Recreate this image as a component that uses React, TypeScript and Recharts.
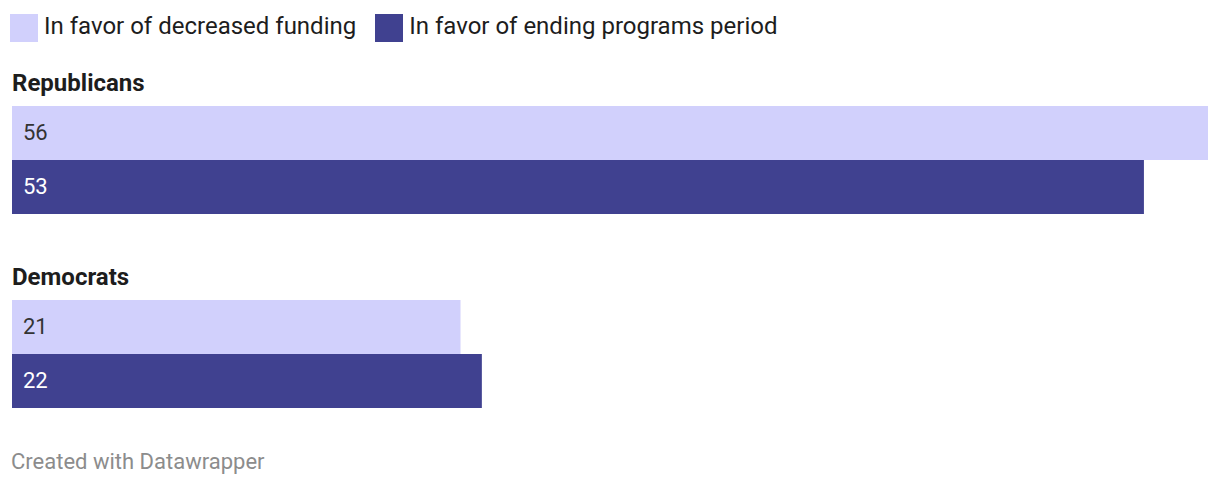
import React from "react";
import { BarChart, Bar, XAxis, YAxis, LabelList } from "recharts";

const parties = ["Republicans", "Democrats"];
const decreasedFunding = [56, 21];
const endingPrograms = [53, 22];
const seriesNames = ["In favor of decreased funding", "In favor of ending programs period"];
const colors = ["#d1d0fc", "#404190"];

const data = parties.map((p, i) => ({
  party: p,
  decreased: decreasedFunding[i],
  ending: endingPrograms[i],
}));

const FONT = "Roboto, 'Noto Sans', sans-serif";

const GroupLabel = (props: any) => {
  const { x, y, index } = props;
  return (
    <text x={x} y={y - 15} fontFamily={FONT} fontWeight={700} fontSize={24} fill="#1d1d1d">
      {parties[index]}
    </text>
  );
};

const ValueLabel = (color: string) => (props: any) => {
  const { x, y, height, value } = props;
  return (
    <text x={x + 11} y={y + height / 2 + 7} fontFamily={FONT} fontSize={22} fill={color}>
      {value}
    </text>
  );
};

export default function App() {
  return (
    <div style={{ position: "absolute", left: 0, top: 0, width: 1220, height: 484, background: "#fff", fontFamily: FONT }}>
      <div style={{ position: "absolute", left: 10, top: 14, display: "flex", alignItems: "center", height: 28 }}>
        {seriesNames.map((n, i) => (
          <div key={n} style={{ display: "flex", alignItems: "center", marginRight: i === 0 ? 19 : 0 }}>
            <div style={{ width: 28, height: 28, background: colors[i], marginRight: 6 }} />
            <span style={{ fontSize: 24, color: "#1d1d1d", position: "relative", top: -2 }}>{n}</span>
          </div>
        ))}
      </div>
      <div style={{ position: "absolute", left: 0, top: 0 }}>
        <BarChart
          width={1220}
          height={484}
          data={data}
          layout="vertical"
          margin={{ top: 63, bottom: 33, left: 12, right: 12 }}
          barGap={0}
          barSize={54}
        >
          <XAxis type="number" domain={[0, 56]} hide />
          <YAxis type="category" dataKey="party" hide />
          <Bar dataKey="decreased" fill={colors[0]} isAnimationActive={false}>
            <LabelList dataKey="decreased" content={ValueLabel("#333333")} />
            <LabelList dataKey="party" content={GroupLabel} />
          </Bar>
          <Bar dataKey="ending" fill={colors[1]} isAnimationActive={false}>
            <LabelList dataKey="ending" content={ValueLabel("#ffffff")} />
          </Bar>
        </BarChart>
      </div>
      <div style={{ position: "absolute", left: 11, top: 449, fontSize: 22, color: "#8c8c8c" }}>
        Created with Datawrapper
      </div>
    </div>
  );
}
